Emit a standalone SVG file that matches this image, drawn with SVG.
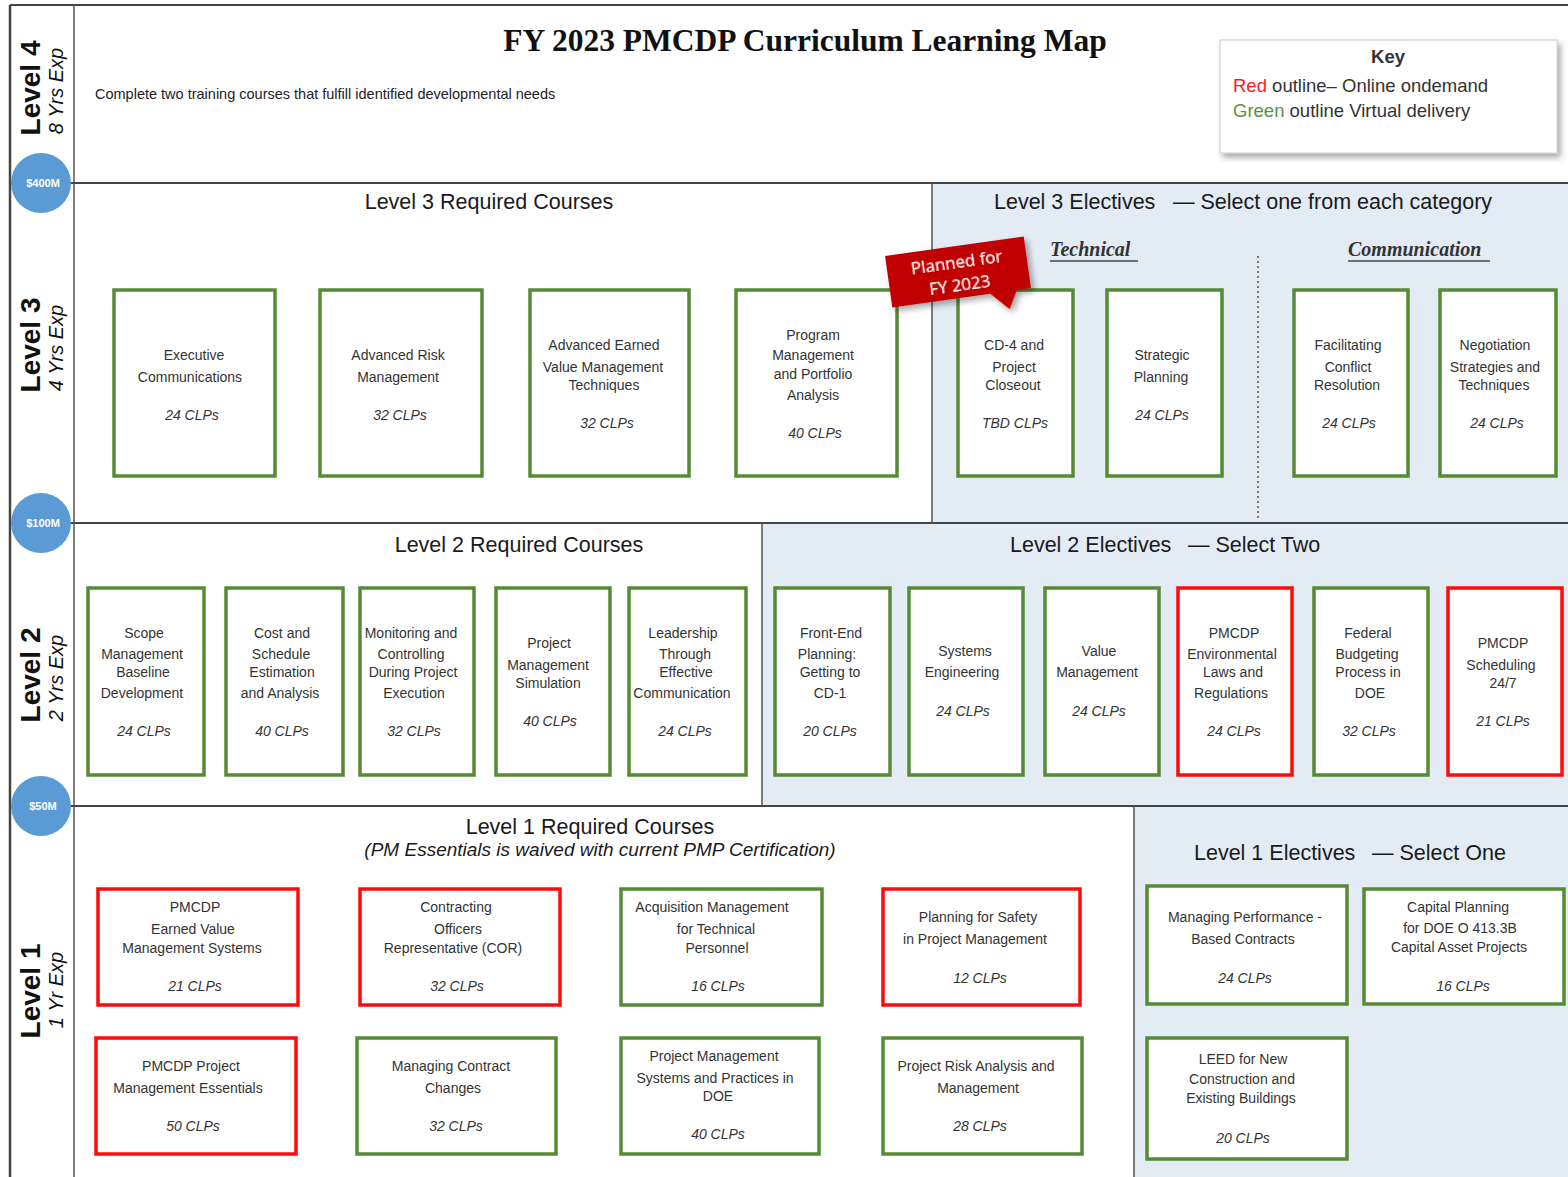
<svg xmlns="http://www.w3.org/2000/svg" width="1568" height="1177" viewBox="0 0 1568 1177">
<defs>
<style>
.bg{fill:#ffffff}
.blue{fill:#e3ebf5}
.frame{stroke:#444;stroke-width:2;fill:none}
.div{stroke:#555;stroke-width:1.5;fill:none}
.g{fill:#fff;stroke:#558b35;stroke-width:3.5}
.r{fill:#fff;stroke:#ff0a0a;stroke-width:3.5}
.t{font-family:"Liberation Sans",Arial,sans-serif;font-size:14px;fill:#333;text-anchor:middle}
.c{font-family:"Liberation Sans",Arial,sans-serif;font-size:14px;fill:#333;text-anchor:middle;font-style:italic}
.h{font-family:"Liberation Sans",Arial,sans-serif;font-size:21.5px;fill:#1a1a1a}
.hm{text-anchor:middle}
.lv{font-family:"Liberation Sans",Arial,sans-serif;font-size:28px;font-weight:bold;fill:#111;text-anchor:middle}
.yr{font-family:"Liberation Sans",Arial,sans-serif;font-size:20px;font-style:italic;fill:#111;text-anchor:middle}
.circ{fill:#5b9bd5}
.ct{font-family:"Liberation Sans",Arial,sans-serif;font-size:11px;font-weight:bold;fill:#fff;text-anchor:middle}
.cat{font-family:"Liberation Serif","Times New Roman",serif;font-size:20px;font-style:italic;font-weight:bold;fill:#333}
.k{font-family:"Liberation Sans",Arial,sans-serif;font-size:18.5px;fill:#333}
</style>
<filter id="sh" x="-10%" y="-10%" width="130%" height="140%">
<feDropShadow dx="3" dy="4" stdDeviation="3" flood-color="#000" flood-opacity="0.35"/>
</filter>
</defs>

<g id="background">
<rect class="bg" x="0" y="0" width="1568" height="1177"/>
<rect class="blue" x="932" y="183" width="636" height="340"/>
<rect class="blue" x="762" y="523" width="806" height="283"/>
<rect class="blue" x="1134" y="806" width="434" height="371"/>
</g>

<g id="frame">
<line class="frame" x1="10" y1="5" x2="1568" y2="5"/>
<line class="frame" x1="10" y1="5" x2="10" y2="1177" style="stroke-width:2.5"/>
<line class="div" x1="74" y1="5" x2="74" y2="1177"/>
<line class="frame" x1="10" y1="183" x2="1568" y2="183"/>
<line class="frame" x1="10" y1="523" x2="1568" y2="523"/>
<line class="frame" x1="10" y1="806" x2="1568" y2="806"/>
<line class="div" x1="932" y1="183" x2="932" y2="523"/>
<line class="div" x1="762" y1="523" x2="762" y2="806"/>
<line class="div" x1="1134" y1="806" x2="1134" y2="1177"/>
<line x1="1258" y1="256" x2="1258" y2="520" stroke="#777" stroke-width="2" stroke-dasharray="2 3"/>
</g>

<g id="level-labels">
<text class="lv" transform="translate(40,88) rotate(-90)">Level 4</text>
<text class="yr" transform="translate(63,91) rotate(-90)">8 Yrs Exp</text>
<text class="lv" transform="translate(40,345) rotate(-90)">Level 3</text>
<text class="yr" transform="translate(63,348) rotate(-90)">4 Yrs Exp</text>
<text class="lv" transform="translate(40,675) rotate(-90)">Level 2</text>
<text class="yr" transform="translate(63,678) rotate(-90)">2 Yrs Exp</text>
<text class="lv" transform="translate(40,991) rotate(-90)">Level 1</text>
<text class="yr" transform="translate(63,990) rotate(-90)">1 Yr Exp</text>
</g>

<g id="thresholds">
<g id="t400"><circle class="circ" cx="41" cy="183" r="30"/><text class="ct" x="43" y="187">$400M</text></g>
<g id="t100"><circle class="circ" cx="41" cy="523" r="30"/><text class="ct" x="43" y="527">$100M</text></g>
<g id="t50"><circle class="circ" cx="41" cy="806" r="30"/><text class="ct" x="43" y="810">$50M</text></g>
</g>

<g id="header">
<text x="805" y="51" text-anchor="middle" font-family="'Liberation Serif','Times New Roman',serif" font-size="31.5" font-weight="bold" fill="#111">FY 2023 PMCDP Curriculum Learning Map</text>
<text x="95" y="99" font-family="'Liberation Sans',Arial,sans-serif" font-size="14.5" fill="#222">Complete two training courses that fulfill identified developmental needs</text>
</g>

<g id="key">
<rect x="1220" y="40" width="337" height="113" fill="#fff" stroke="#ccc" stroke-width="1" filter="url(#sh)"/>
<text class="k" x="1388" y="63" text-anchor="middle" font-weight="bold">Key</text>
<text class="k" x="1233" y="92"><tspan fill="#ff1a1a">Red</tspan> outline– Online ondemand</text>
<text class="k" x="1233" y="117"><tspan fill="#5a9140">Green</tspan> outline Virtual delivery</text>
</g>

<g id="section-headings">
<text class="h hm" x="489" y="209">Level 3 Required Courses</text>
<text class="h" x="994" y="209">Level 3 Electives</text>
<text class="h" x="1173" y="209">— Select one from each category</text>
<text class="cat" x="1050" y="256">Technical</text>
<line x1="1050" y1="261" x2="1138" y2="261" stroke="#444" stroke-width="1.5"/>
<text class="cat" x="1348" y="256">Communication</text>
<line x1="1348" y1="261" x2="1490" y2="261" stroke="#444" stroke-width="1.5"/>
<text class="h hm" x="519" y="552">Level 2 Required Courses</text>
<text class="h" x="1010" y="552">Level 2 Electives</text>
<text class="h" x="1188" y="552">— Select Two</text>
<text class="h hm" x="590" y="834">Level 1 Required Courses</text>
<text x="600" y="856" text-anchor="middle" font-family="'Liberation Sans',Arial,sans-serif" font-size="19" font-style="italic" fill="#1a1a1a">(PM Essentials is waived with current PMP Certification)</text>
<text class="h" x="1194" y="860">Level 1 Electives</text>
<text class="h" x="1372" y="860">— Select One</text>
</g>

<g id="nodes">
<!-- Level 3 required -->
<g id="n-exec-comm"><rect class="g" x="114" y="290" width="161" height="186"/><text class="t" x="194"><tspan x="194" y="360">Executive</tspan><tspan x="190" y="382">Communications</tspan></text><text class="c" x="192" y="420">24 CLPs</text></g>
<g id="n-adv-risk"><rect class="g" x="320" y="290" width="162" height="186"/><text class="t"><tspan x="398" y="360">Advanced Risk</tspan><tspan x="398" y="382">Management</tspan></text><text class="c" x="400" y="420">32 CLPs</text></g>
<g id="n-adv-ev"><rect class="g" x="530" y="290" width="159" height="186"/><text class="t"><tspan x="604" y="350">Advanced Earned</tspan><tspan x="603" y="372">Value Management</tspan><tspan x="604" y="390">Techniques</tspan></text><text class="c" x="607" y="428">32 CLPs</text></g>
<g id="n-program-mgmt"><rect class="g" x="736" y="290" width="161" height="186"/><text class="t"><tspan x="813" y="340">Program</tspan><tspan x="813" y="360">Management</tspan><tspan x="813" y="379">and Portfolio</tspan><tspan x="813" y="400">Analysis</tspan></text><text class="c" x="815" y="438">40 CLPs</text></g>
<!-- Level 3 electives -->
<g id="n-cd4"><rect class="g" x="958" y="290" width="115" height="186"/><text class="t"><tspan x="1014" y="350">CD-4 and</tspan><tspan x="1014" y="372">Project</tspan><tspan x="1013" y="390">Closeout</tspan></text><text class="c" x="1015" y="428">TBD CLPs</text></g>
<g id="n-strategic"><rect class="g" x="1107" y="290" width="115" height="186"/><text class="t"><tspan x="1162" y="360">Strategic</tspan><tspan x="1161" y="382">Planning</tspan></text><text class="c" x="1162" y="420">24 CLPs</text></g>
<g id="n-conflict"><rect class="g" x="1294" y="290" width="114" height="186"/><text class="t"><tspan x="1348" y="350">Facilitating</tspan><tspan x="1348" y="372">Conflict</tspan><tspan x="1347" y="390">Resolution</tspan></text><text class="c" x="1349" y="428">24 CLPs</text></g>
<g id="n-negotiation"><rect class="g" x="1440" y="290" width="116" height="186"/><text class="t"><tspan x="1495" y="350">Negotiation</tspan><tspan x="1495" y="372">Strategies and</tspan><tspan x="1494" y="390">Techniques</tspan></text><text class="c" x="1497" y="428">24 CLPs</text></g>

<!-- Level 2 required -->
<g id="n-scope"><rect class="g" x="88" y="588" width="116" height="187"/><text class="t"><tspan x="144" y="638">Scope</tspan><tspan x="142" y="659">Management</tspan><tspan x="143" y="677">Baseline</tspan><tspan x="142" y="698">Development</tspan></text><text class="c" x="144" y="736">24 CLPs</text></g>
<g id="n-cost"><rect class="g" x="226" y="588" width="117" height="187"/><text class="t"><tspan x="282" y="638">Cost and</tspan><tspan x="281" y="659">Schedule</tspan><tspan x="282" y="677">Estimation</tspan><tspan x="280" y="698">and Analysis</tspan></text><text class="c" x="282" y="736">40 CLPs</text></g>
<g id="n-monitoring"><rect class="g" x="360" y="588" width="114" height="187"/><text class="t"><tspan x="411" y="638">Monitoring and</tspan><tspan x="411" y="659">Controlling</tspan><tspan x="413" y="677">During Project</tspan><tspan x="414" y="698">Execution</tspan></text><text class="c" x="414" y="736">32 CLPs</text></g>
<g id="n-pm-sim"><rect class="g" x="496" y="588" width="114" height="187"/><text class="t"><tspan x="549" y="648">Project</tspan><tspan x="548" y="670">Management</tspan><tspan x="548" y="688">Simulation</tspan></text><text class="c" x="550" y="726">40 CLPs</text></g>
<g id="n-leadership"><rect class="g" x="629" y="588" width="117" height="187"/><text class="t"><tspan x="683" y="638">Leadership</tspan><tspan x="685" y="659">Through</tspan><tspan x="686" y="677">Effective</tspan><tspan x="682" y="698">Communication</tspan></text><text class="c" x="685" y="736">24 CLPs</text></g>
<!-- Level 2 electives -->
<g id="n-front-end"><rect class="g" x="775" y="588" width="115" height="187"/><text class="t"><tspan x="831" y="638">Front-End</tspan><tspan x="827" y="659">Planning:</tspan><tspan x="830" y="677">Getting to</tspan><tspan x="830" y="698">CD-1</tspan></text><text class="c" x="830" y="736">20 CLPs</text></g>
<g id="n-systems-eng"><rect class="g" x="909" y="588" width="114" height="187"/><text class="t"><tspan x="965" y="656">Systems</tspan><tspan x="962" y="677">Engineering</tspan></text><text class="c" x="963" y="716">24 CLPs</text></g>
<g id="n-value-mgmt"><rect class="g" x="1045" y="588" width="114" height="187"/><text class="t"><tspan x="1099" y="656">Value</tspan><tspan x="1097" y="677">Management</tspan></text><text class="c" x="1099" y="716">24 CLPs</text></g>
<g id="n-env-laws"><rect class="r" x="1178" y="588" width="114" height="187"/><text class="t"><tspan x="1234" y="638">PMCDP</tspan><tspan x="1232" y="659">Environmental</tspan><tspan x="1233" y="677">Laws and</tspan><tspan x="1231" y="698">Regulations</tspan></text><text class="c" x="1234" y="736">24 CLPs</text></g>
<g id="n-fed-budget"><rect class="g" x="1314" y="588" width="114" height="187"/><text class="t"><tspan x="1368" y="638">Federal</tspan><tspan x="1367" y="659">Budgeting</tspan><tspan x="1368" y="677">Process in</tspan><tspan x="1370" y="698">DOE</tspan></text><text class="c" x="1369" y="736">32 CLPs</text></g>
<g id="n-scheduling"><rect class="r" x="1448" y="588" width="114" height="187"/><text class="t"><tspan x="1503" y="648">PMCDP</tspan><tspan x="1501" y="670">Scheduling</tspan><tspan x="1503" y="688">24/7</tspan></text><text class="c" x="1503" y="726">21 CLPs</text></g>

<!-- Level 1 required -->
<g id="n-evms"><rect class="r" x="98" y="889" width="200" height="116"/><text class="t"><tspan x="195" y="912">PMCDP</tspan><tspan x="193" y="934">Earned Value</tspan><tspan x="192" y="953">Management Systems</tspan></text><text class="c" x="195" y="991">21 CLPs</text></g>
<g id="n-cor"><rect class="r" x="360" y="889" width="200" height="116"/><text class="t"><tspan x="456" y="912">Contracting</tspan><tspan x="458" y="934">Officers</tspan><tspan x="453" y="953">Representative (COR)</tspan></text><text class="c" x="457" y="991">32 CLPs</text></g>
<g id="n-acq"><rect class="g" x="621" y="889" width="201" height="116"/><text class="t"><tspan x="712" y="912">Acquisition Management</tspan><tspan x="716" y="934">for Technical</tspan><tspan x="717" y="953">Personnel</tspan></text><text class="c" x="718" y="991">16 CLPs</text></g>
<g id="n-safety"><rect class="r" x="883" y="889" width="197" height="116"/><text class="t"><tspan x="978" y="922">Planning for Safety</tspan><tspan x="975" y="944">in Project Management</tspan></text><text class="c" x="980" y="983">12 CLPs</text></g>
<g id="n-pm-essentials"><rect class="r" x="96" y="1038" width="200" height="116"/><text class="t"><tspan x="191" y="1071">PMCDP Project</tspan><tspan x="188" y="1093">Management Essentials</tspan></text><text class="c" x="193" y="1131">50 CLPs</text></g>
<g id="n-contract-changes"><rect class="g" x="357" y="1038" width="199" height="116"/><text class="t"><tspan x="451" y="1071">Managing Contract</tspan><tspan x="453" y="1093">Changes</tspan></text><text class="c" x="456" y="1131">32 CLPs</text></g>
<g id="n-pm-systems"><rect class="g" x="621" y="1038" width="198" height="116"/><text class="t"><tspan x="714" y="1061">Project Management</tspan><tspan x="715" y="1083">Systems and Practices in</tspan><tspan x="718" y="1101">DOE</tspan></text><text class="c" x="718" y="1139">40 CLPs</text></g>
<g id="n-risk-analysis"><rect class="g" x="883" y="1038" width="199" height="116"/><text class="t"><tspan x="976" y="1071">Project Risk Analysis and</tspan><tspan x="978" y="1093">Management</tspan></text><text class="c" x="980" y="1131">28 CLPs</text></g>
<!-- Level 1 electives -->
<g id="n-perf-contracts"><rect class="g" x="1147" y="886" width="200" height="118"/><text class="t"><tspan x="1245" y="922">Managing Performance  -</tspan><tspan x="1243" y="944">Based Contracts</tspan></text><text class="c" x="1245" y="983">24 CLPs</text></g>
<g id="n-capital"><rect class="g" x="1364" y="889" width="200" height="115"/><text class="t"><tspan x="1458" y="912">Capital Planning</tspan><tspan x="1460" y="933">for DOE O 413.3B</tspan><tspan x="1459" y="952">Capital Asset Projects</tspan></text><text class="c" x="1463" y="991">16 CLPs</text></g>
<g id="n-leed"><rect class="g" x="1147" y="1038" width="200" height="121"/><text class="t"><tspan x="1243" y="1064">LEED for New</tspan><tspan x="1242" y="1084">Construction and</tspan><tspan x="1241" y="1103">Existing Buildings</tspan></text><text class="c" x="1243" y="1143">20 CLPs</text></g>
</g>

<g id="planned-banner" transform="rotate(-8 958 272)" filter="url(#sh)">
<rect x="888" y="246" width="140" height="52" fill="#c00000"/>
<polygon points="985,296 1015,296 1004,316" fill="#c00000"/>
<text x="958" y="268" text-anchor="middle" font-family="'Open Sans','Liberation Sans',sans-serif" font-size="17" fill="#fff">Planned for</text>
<text x="958" y="291" text-anchor="middle" font-family="'Open Sans','Liberation Sans',sans-serif" font-size="17" fill="#fff">FY 2023</text>
</g>

<g id="connectors"/>
</svg>
